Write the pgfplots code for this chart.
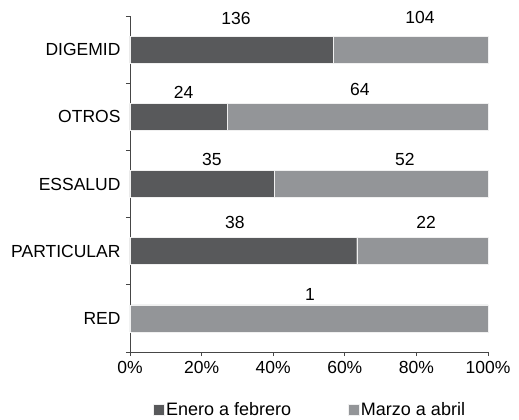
\documentclass[border=0pt]{standalone}
\usepackage{pgfplots}
\pgfplotsset{compat=1.18}
\usepackage{fontspec}
\setmainfont{Liberation Sans}
\definecolor{darkbar}{RGB}{88,89,91}
\definecolor{lightbar}{RGB}{147,149,152}
\definecolor{axline}{RGB}{70,70,70}
\begin{document}
\begin{tikzpicture}[font=\fontsize{17.5}{20}\selectfont]
\path[use as bounding box] (-130pt,-68pt) rectangle (389pt,352pt);
\begin{axis}[
  at={(0pt,0pt)}, anchor=south west,
  scale only axis, width=358pt, height=336pt,
  xbar stacked, bar width=27pt,
  xmin=0, xmax=100, ymin=-0.5, ymax=4.5,
  axis x line*=bottom, axis y line*=left,
  axis line style={axline, line width=0.8pt},
  xtick={0,20,40,60,80,100},
  xticklabels={0\%,20\%,40\%,60\%,80\%,100\%},
  ytick={-0.5,0.5,1.5,2.5,3.5,4.5},
  yticklabels={},
  extra y ticks={0,1,2,3,4},
  extra y tick labels={RED,PARTICULAR,ESSALUD,OTROS,DIGEMID},
  extra y tick style={major tick length=0pt, tick style={draw=none}},
  tick align=outside,
  major tick length=4pt,
  tick style={axline, line width=0.8pt},
  tick label style={font=\fontsize{17.5}{20}\selectfont, text=black},
  yticklabel style={xshift=-6pt},
  xticklabel style={yshift=-2pt},
  clip=false,
  legend columns=2,
  legend style={draw=none, fill=none, at={(0.503,-0.173)}, anchor=center,
    font=\fontsize{18}{20}\selectfont, /tikz/every even column/.append style={column sep=55pt}},
  legend image code/.code={\fill[#1] (0pt,-5pt) rectangle (10.5pt,5.5pt);},
]
\addplot[fill=darkbar, draw=white!88!gray, line width=0.4pt] coordinates {(0,0) (63.333,1) (40.230,2) (27.273,3) (56.667,4)};
\addlegendentry{Enero a febrero}
\addplot[fill=lightbar, draw=white!88!gray, line width=0.4pt] coordinates {(100,0) (36.667,1) (59.770,2) (72.727,3) (43.333,4)};
\addlegendentry{Marzo a abril}
\node at (axis cs:29.6,4.47) {136};
\node at (axis cs:81,4.48) {104};
\node at (axis cs:15,3.37) {24};
\node at (axis cs:64.2,3.40) {64};
\node at (axis cs:22.9,2.37) {35};
\node at (axis cs:76.8,2.37) {52};
\node at (axis cs:29.3,1.43) {38};
\node at (axis cs:82.7,1.43) {22};
\node at (axis cs:50.3,0.35) {1};
\end{axis}
\end{tikzpicture}
\end{document}
